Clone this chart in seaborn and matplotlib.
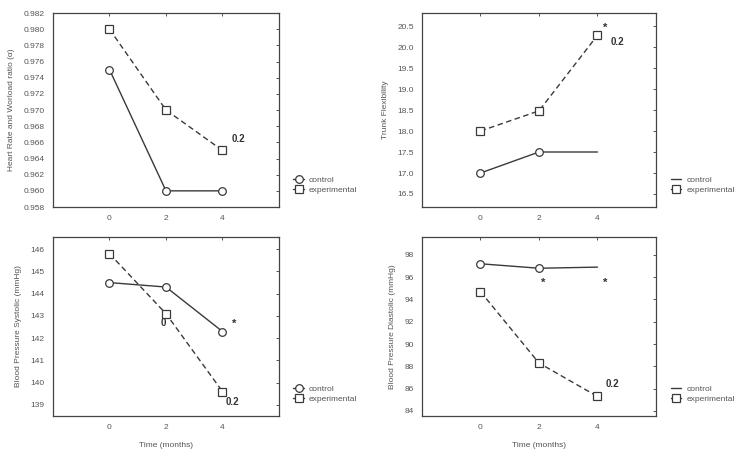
import pandas as pd
import matplotlib.pyplot as plt
import seaborn as sns
from matplotlib.lines import Line2D

# Data
months = [0, 2, 4]

hr_control = [0.975, 0.960, 0.960]
hr_experimental = [0.980, 0.970, 0.965]

trunk_control = [17.0, 17.5, 17.5]
trunk_experimental = [18.0, 18.48, 20.28]

sys_control = [144.5, 144.3, 142.3]
sys_experimental = [145.8, 143.1, 139.6]

dia_control = [97.2, 96.8, 96.9]
dia_experimental = [94.7, 88.3, 85.3]

ylabels = [
    "Heart Rate and Worload ratio (\u03b1)",
    "Trunk Flexibility",
    "Blood Pressure Systolic (mmHg)",
    "Blood Pressure Diastolic (mmHg)",
]

sns.set_style("white")
plt.rcParams["font.family"] = ["Liberation Sans", "DejaVu Sans"]

ink = "#3a3a3a"
txt = "#555555"

fig = plt.figure(figsize=(7.42, 4.58), dpi=100)
positions = [
    [0.0714, 0.548, 0.3046, 0.4236],
    [0.5687, 0.548, 0.3154, 0.4236],
    [0.0714, 0.0917, 0.3046, 0.3908],
    [0.5687, 0.0917, 0.3154, 0.3908],
]
axes = [fig.add_axes(p) for p in positions]

panels = [
    (hr_control, hr_experimental, (0.958, 0.982), [0.958 + 0.002 * i for i in range(13)], "{:.3f}", True),
    (trunk_control, trunk_experimental, (16.19, 20.81), [16.5 + 0.5 * i for i in range(9)], "{:.1f}", False),
    (sys_control, sys_experimental, (138.5, 146.55), list(range(139, 147)), "{:.0f}", True),
    (dia_control, dia_experimental, (83.55, 99.6), list(range(84, 99, 2)), "{:.0f}", False),
]

mk = dict(markersize=5.5, markerfacecolor="white", markeredgecolor=ink, markeredgewidth=0.9)

for i, (ax, (ctrl, expt, ylim, yticks, fmt, full_markers)) in enumerate(zip(axes, panels)):
    df_c = pd.DataFrame({"month": months, "value": ctrl})
    df_e = pd.DataFrame({"month": months, "value": expt})
    if full_markers:
        sns.lineplot(data=df_c, x="month", y="value", ax=ax, color=ink, lw=1.0,
                     marker="o", **mk)
    else:
        sns.lineplot(data=df_c, x="month", y="value", ax=ax, color=ink, lw=1.0,
                     marker="o", markevery=[0, 1], **mk)
    sns.lineplot(data=df_e, x="month", y="value", ax=ax, color=ink, lw=1.0,
                 marker="s", dashes=(4, 2.5), **mk)

    ax.set_xlim(-2, 6)
    ax.set_ylim(*ylim)
    ax.set_xticks([0, 2, 4])
    ax.set_yticks(yticks)
    ax.set_yticklabels([fmt.format(t) for t in yticks])
    ax.tick_params(direction="in", length=2, width=0.6, color=ink, labelsize=6,
                   labelcolor=txt, right=True, top=True, pad=6)
    for s in ax.spines.values():
        s.set_color("#444444")
        s.set_linewidth(0.9)
    ax.set_ylabel(ylabels[i], fontsize=6, color=txt, labelpad=6)
    if i >= 2:
        ax.set_xlabel("Time (months)", fontsize=6, color=txt, labelpad=8)
    else:
        ax.set_xlabel("")

    if full_markers:
        h_c = Line2D([], [], color=ink, lw=1.0, marker="o", **mk)
    else:
        h_c = Line2D([], [], color=ink, lw=1.0)
    h_e = Line2D([], [], color=ink, lw=1.0, marker="s", **mk)
    leg_y = 0.113 if i < 2 else 0.123
    ax.legend([h_c, h_e], ["control", "experimental"], loc="center left",
              bbox_to_anchor=(1.03, leg_y), frameon=False, fontsize=6,
              handlelength=1.3, handletextpad=0.6, labelspacing=0.3,
              labelcolor=txt)

bold = dict(fontsize=7, fontweight="bold", color="#333333", ha="center", va="center")
star = dict(fontsize=8, fontweight="bold", color="#333333", ha="center", va="center")

axes[0].text(4.55, 0.9664, "0.2", **bold)

axes[1].text(4.26, 20.45, "*", **star)
axes[1].text(4.67, 20.12, "0.2", **bold)

axes[2].text(1.89, 142.7, "0", **bold)
axes[2].text(4.41, 142.65, "*", **star)
axes[2].text(4.34, 139.15, "0.2", **bold)

axes[3].text(2.14, 95.5, "*", **star)
axes[3].text(4.26, 95.5, "*", **star)
axes[3].text(4.5, 86.4, "0.2", **bold)

plt.savefig("out.png", dpi=100)
plt.close()
